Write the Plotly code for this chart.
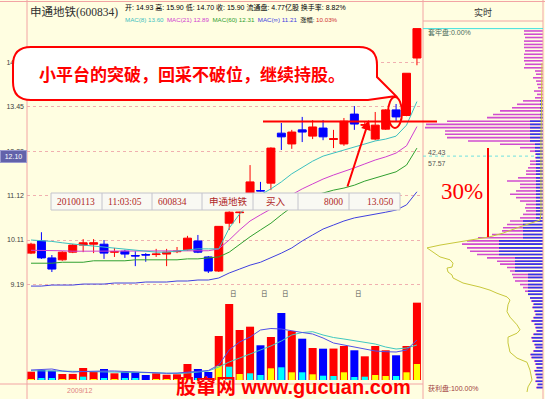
import plotly.graph_objects as go

# ---------------- data ----------------
days = list(range(1, 39))
opens = [9.83, 10.09, 9.73, 9.69, 9.85, 10.00, 10.02, 10.02, 9.85, 9.87,
         9.78, 9.80, 9.80, 9.81, 9.86, 9.90, 10.09, 9.75, 9.46, 10.48,
         10.72, 11.16, 11.24, 11.42, 12.71, 12.42, 12.80, 12.63, 12.85, 12.54,
         12.42, 13.24, 12.93, 12.55, 12.82, 13.36, 13.20, 14.93]
highs = [10.05, 10.28, 9.79, 9.87, 10.02, 10.13, 10.13, 10.11, 9.94, 9.90,
         9.87, 9.83, 9.92, 9.92, 9.96, 10.20, 10.22, 9.77, 10.41, 10.75,
         10.74, 11.87, 11.45, 12.33, 12.99, 12.80, 13.16, 13.07, 13.07, 12.80,
         13.13, 13.47, 13.02, 13.30, 13.38, 13.53, 14.45, 15.90]
lows = [9.81, 9.71, 9.44, 9.67, 9.83, 9.85, 9.83, 9.71, 9.75, 9.73,
        9.56, 9.65, 9.75, 9.56, 9.83, 9.88, 9.83, 9.42, 9.44, 10.33,
        10.48, 11.14, 11.22, 11.25, 12.26, 12.29, 12.47, 12.55, 12.52, 12.31,
        12.37, 12.80, 12.88, 12.52, 12.80, 13.04, 13.18, 14.70]
closes = [10.02, 9.73, 9.50, 9.85, 10.00, 10.05, 10.05, 9.83, 9.86, 9.81,
          9.77, 9.79, 9.81, 9.85, 9.87, 10.15, 9.85, 9.46, 10.41, 10.73,
          10.73, 11.45, 11.23, 12.31, 12.61, 12.74, 12.74, 12.88, 12.61, 12.56,
          13.04, 12.96, 12.94, 12.93, 13.36, 13.16, 14.45, 15.90]

ma8 = [10.11, 10.10, 10.08, 10.05, 10.02, 10.00, 9.98, 9.96, 9.94, 9.92,
       9.90, 9.87, 9.85, 9.85, 9.87, 9.90, 9.92, 9.92, 9.92, 10.37,
       10.69, 10.94, 11.14, 11.28, 11.45, 11.65, 11.82, 11.97, 12.10, 12.18,
       12.26, 12.34, 12.42, 12.50, 12.55, 12.63, 12.93, 13.60]
ma21 = [9.89, 9.89, 9.88, 9.88, 9.87, 9.87, 9.87, 9.87, 9.87, 9.87,
        9.87, 9.87, 9.87, 9.87, 9.87, 9.87, 9.88, 9.88, 9.92, 10.11,
        10.33, 10.53, 10.67, 10.80, 10.94, 11.14, 11.28, 11.40, 11.52, 11.62,
        11.70, 11.80, 11.90, 12.00, 12.08, 12.18, 12.37, 12.89]
ma60 = [9.62, 9.62, 9.62, 9.64, 9.64, 9.64, 9.67, 9.67, 9.67, 9.67,
        9.69, 9.69, 9.69, 9.69, 9.69, 9.71, 9.71, 9.73, 9.75, 9.85,
        10.02, 10.18, 10.33, 10.48, 10.67, 10.85, 10.99, 11.12, 11.18, 11.25,
        11.30, 11.37, 11.47, 11.55, 11.62, 11.70, 11.87, 12.31]
ma_inf = [9.16, 9.16, 9.18, 9.18, 9.18, 9.20, 9.20, 9.20, 9.22, 9.22,
          9.22, 9.24, 9.24, 9.24, 9.26, 9.26, 9.28, 9.28, 9.32, 9.42,
          9.50, 9.58, 9.64, 9.73, 9.83, 9.94, 10.09, 10.22, 10.35, 10.44,
          10.53, 10.60, 10.64, 10.69, 10.73, 10.78, 10.90, 11.21]

volume = [45200, 54400, 50600, 32600, 33100, 65300, 43500, 59800, 36400, 43500,
          43800, 27200, 36400, 28800, 31000, 87000, 59800, 43500, 239400, 413400,
          272000, 290000, 188800, 233900, 364500, 266600, 224700, 174100, 170300, 171000,
          185000, 161600, 128900, 185000, 161600, 134400, 185000, 420700]
vol_yellow = [5400, 0, 0, 5400, 5400, 0, 5400, 0, 5400, 0,
              0, 0, 3800, 3800, 3800, 10900, 0, 0, 76200, 0,
              32600, 0, 0, 63600, 0, 41900, 0, 31000, 0, 0,
              41900, 0, 0, 27200, 21800, 0, 41900, 87000]
vol_cyan = [0, 7100, 9200, 0, 0, 18000, 0, 9200, 0, 9200,
            7100, 0, 0, 0, 0, 0, 9200, 0, 0, 72400,
            0, 36400, 27200, 0, 69100, 0, 41900, 0, 23400, 21800,
            0, 16300, 18000, 0, 0, 21800, 0, 0]
vol_ma5 = [54400, 57100, 59800, 49000, 43500, 46200, 49000, 49000, 49000, 46200,
           43500, 40800, 38100, 36400, 38100, 43500, 49000, 51700, 81600, 163200,
           206700, 233900, 272000, 280200, 277400, 266600, 258400, 250200, 228500, 201300,
           190400, 176800, 165900, 157800, 154000, 152300, 163200, 217600]
vol_ma10 = [50600, 50600, 50000, 49000, 47300, 46200, 45700, 45200, 44600, 43500,
            42400, 40800, 39200, 37000, 35400, 38100, 43500, 49000, 70700, 97900,
            119700, 141400, 163200, 185000, 212200, 244800, 258400, 262800, 244800, 231200,
            223000, 214900, 206700, 195800, 179500, 168600, 174100, 190400]

chip_prices = [15.82, 15.71, 15.60, 15.48, 15.37, 15.27, 15.16, 15.05, 14.94, 14.84,
               14.73, 14.62, 14.52, 14.42, 14.31, 14.21, 14.11, 14.01, 13.91, 13.81,
               13.71, 13.62, 13.52, 13.42, 13.33, 13.23, 13.14, 13.04, 12.95, 12.86,
               12.77, 12.68, 12.59, 12.50, 12.41, 12.32, 12.23, 12.15, 12.06, 11.97,
               11.89, 11.80, 11.72, 11.64, 11.55, 11.47, 11.39, 11.31, 11.23, 11.15,
               11.07, 10.99, 10.91, 10.83, 10.76, 10.68, 10.60, 10.53, 10.45, 10.38,
               10.31, 10.23, 10.16, 10.09, 10.02, 9.94, 9.87, 9.80, 9.73, 9.66,
               9.60, 9.53, 9.46, 9.39, 9.33, 9.26, 9.19, 9.13, 9.06, 9.00,
               8.93, 8.87, 8.81, 8.75, 8.68, 8.62, 8.56, 8.50, 8.44, 8.38,
               8.32, 8.26, 8.20, 8.14, 8.08, 8.03, 7.97, 7.91, 7.86, 7.80,
               7.75, 7.69, 7.64, 7.58, 7.53, 7.47, 7.42, 7.37]
chip_total = [19, 19, 18, 19, 19, 19, 18, 19, 19, 19, 18, 19,
              8, 7, 10, 7, 6, 5, 9, 6, 8,
              20, 26, 31, 43, 50, 56, 96, 117, 118, 98, 98, 96, 75, 43, 23, 13,
              8, 8, 13, 13, 15, 17, 17, 25, 36, 23, 23, 27, 33, 27, 23, 17, 18, 17, 20, 23,
              33, 36, 40, 41, 51, 65, 76, 81, 76, 73, 66, 56, 46, 43, 36, 33, 31, 30, 28,
              23, 20, 18, 15, 13,
              12, 10, 11, 9, 8, 10, 12, 9, 8, 7, 10, 12, 11, 9, 8, 10, 13, 12, 9, 8,
              7, 9, 8, 7, 8, 6, 7]
chip_blue = [0, 0, 0, 0, 0, 0, 0, 0, 0, 0, 0, 0, 0, 0, 0, 0, 0, 0, 0, 0, 0,
             3, 3, 3, 3, 3, 3,
             13, 13, 13, 13, 13, 13, 13,
             8, 8, 8,
             7, 7, 7, 7, 7, 7, 7, 7, 7, 7, 7, 7, 7, 7, 7, 7, 7, 7, 7, 7,
             20, 20, 20, 20, 20, 20,
             44, 44, 44, 44, 44,
             28, 28, 28, 28, 28,
             15, 15, 15, 15, 15, 15, 15, 13,
             11, 9, 10, 8, 7, 9, 11, 8, 7, 6, 9, 11, 10, 8, 7, 9, 12, 11, 8, 7,
             6, 8, 7, 6, 7, 5, 6]
profit_x = [1, 2, 2, 3, 23, 40, 53, 73, 103, 116, 110, 103, 93, 90, 91, 96, 95, 91,
            90, 80, 63, 53, 46, 36, 33, 35, 36, 33, 26, 23, 26, 35, 35, 33, 26, 16,
            13, 11, 15, 16]
profit_price = [14.77, 12.50, 10.71, 10.55, 10.40, 10.26, 10.18, 10.11, 10.00, 9.94,
                9.85, 9.75, 9.69, 9.62, 9.54, 9.52, 9.44, 9.38, 9.32, 9.22, 9.14,
                9.08, 9.02, 8.95, 8.89, 8.80, 8.67, 8.57, 8.43, 8.34, 8.28, 8.21,
                8.11, 7.95, 7.85, 7.78, 7.65, 7.49, 7.38, 7.30]

ytick_vals = [9.19, 10.11, 11.12, 12.23, 13.45, 14.79]
ytick_text = ["9.19", "10.11", "11.12", "12.23", "13.45", "14.79"]
trade_row = ["20100113", "11:03:05", "600834", "申通地铁", "买入", "8000", "13.050"]
info_days = [20, 23, 25, 32]
cursor_price = 12.10
platform_price = 13.03

# ---------------- styles ----------------
W, H = 545, 399
BG = "#fffee1"
RED = "#ff0000"
BLUE = "#0000ff"
PINK = "#f2a4a4"
GRID = "#f0b0b0"
C_MA8, C_MA21, C_MA60, C_MAINF = "#3cc0c0", "#d040d0", "#30a030", "#4040e0"
SANS = "Liberation Sans, Noto Sans CJK SC"
SERIF = "Liberation Serif, Noto Sans CJK SC"


def px(x):
    return x / W


def py(y):
    return 1 - y / H


fig = go.Figure()

# candles
fig.add_trace(go.Candlestick(
    x=days, open=opens, high=highs, low=lows, close=closes,
    increasing=dict(line=dict(color=RED, width=1), fillcolor=RED),
    decreasing=dict(line=dict(color=BLUE, width=1), fillcolor=BLUE),
    whiskerwidth=0, hoverinfo="skip", xaxis="x", yaxis="y"))
for arr, col in [(ma_inf, C_MAINF), (ma60, C_MA60), (ma21, C_MA21), (ma8, C_MA8)]:
    fig.add_trace(go.Scatter(x=days, y=arr, mode="lines", line=dict(color=col, width=1),
                             hoverinfo="skip", xaxis="x", yaxis="y"))

# volume
vol_colors = [RED if c >= o else BLUE for o, c in zip(opens, closes)]
fig.add_trace(go.Bar(x=days, y=volume, width=0.77, marker=dict(color=vol_colors, line=dict(width=0)),
                     hoverinfo="skip", xaxis="x", yaxis="y2"))
fig.add_trace(go.Bar(x=days, y=vol_yellow, width=0.6, marker=dict(color="#ffff00", line=dict(width=0)),
                     hoverinfo="skip", xaxis="x", yaxis="y2"))
fig.add_trace(go.Bar(x=days, y=vol_cyan, width=0.6, marker=dict(color="#00ffff", line=dict(width=0)),
                     hoverinfo="skip", xaxis="x", yaxis="y2"))
fig.add_trace(go.Scatter(x=days, y=vol_ma10, mode="lines", line=dict(color="#40c8c0", width=1),
                         hoverinfo="skip", xaxis="x", yaxis="y2"))
fig.add_trace(go.Scatter(x=days, y=vol_ma5, mode="lines", line=dict(color="#5050e8", width=1),
                         hoverinfo="skip", xaxis="x", yaxis="y2"))


# chip distribution
def segs(lengths):
    xs, ys = [], []
    for p, L in zip(chip_prices, lengths):
        if L > 0:
            xs += [0, L, None]
            ys += [p, p, None]
    return xs, ys


mx, my = segs(chip_total)
bx, by = segs(chip_blue)
fig.add_trace(go.Scatter(x=mx, y=my, mode="lines", line=dict(color="#d04cd0", width=1.6),
                         hoverinfo="skip", xaxis="x3", yaxis="y3"))
fig.add_trace(go.Scatter(x=bx, y=by, mode="lines", line=dict(color="#3535e6", width=1.6),
                         hoverinfo="skip", xaxis="x3", yaxis="y3"))
fig.add_trace(go.Scatter(x=profit_x, y=profit_price, mode="lines", line=dict(color="#c8c83c", width=1),
                         hoverinfo="skip", xaxis="x3", yaxis="y3"))

# ---------------- shapes ----------------
shapes = []


def line(x0, y0, x1, y1, color=PINK, width=1, dash="solid"):
    shapes.append(dict(type="line", xref="paper", yref="paper", x0=px(x0), y0=py(y0),
                       x1=px(x1), y1=py(y1), line=dict(color=color, width=width, dash=dash)))


line(27, 0, 27, 399)
line(423, 0, 423, 399)
line(543, 0, 543, 399)
line(0, 1.5, 545, 1.5)
line(0, 384, 423, 384)
line(423, 21, 543, 21)

# chip panel marker lines
shapes.append(dict(type="line", xref="x3 domain", yref="y3", x0=0, x1=1, y0=closes[-1], y1=closes[-1],
                   line=dict(color="#40e0e0", width=1)))
shapes.append(dict(type="line", xref="x3 domain", yref="y3", x0=0, x1=1, y0=cursor_price, y1=cursor_price,
                   line=dict(color="#70e0e0", width=1, dash="dot")))
line(488, 148, 488, 237, color=RED, width=2)

# trade table
shapes.append(dict(type="rect", xref="paper", yref="paper", x0=px(51), x1=px(400), y0=py(210), y1=py(193),
                   fillcolor="#f9f9f3", line=dict(color="#c4c4cc", width=1)))
for xd in [102, 152, 202, 253, 298, 349]:
    line(xd, 193, xd, 210, color="#c4c4cc")

# platform line, ellipse
shapes.append(dict(type="line", xref="paper", yref="y", x0=px(263), x1=px(437), y0=platform_price,
                   y1=platform_price, line=dict(color=RED, width=2)))
shapes.append(dict(type="circle", xref="paper", yref="paper", x0=px(388), x1=px(402), y0=py(128), y1=py(97),
                   line=dict(color=RED, width=2)))

# speech bubble
L_, R_, T_, B_, r = 13, 377, 47, 100, 18


def P(x, y):
    return f"{px(x):.5f},{py(y):.5f}"


path = (f"M {P(L_ + r, T_)} L {P(R_ - r, T_)} Q {P(R_, T_)} {P(R_, T_ + r)} L {P(R_, 77)} "
        f"L {P(396, 96)} L {P(368, B_)} L {P(L_ + r, B_)} Q {P(L_, B_)} {P(L_, B_ - r)} "
        f"L {P(L_, T_ + r)} Q {P(L_, T_)} {P(L_ + r, T_)} Z")
shapes.append(dict(type="path", xref="paper", yref="paper", path=path, fillcolor="#ffffff",
                   line=dict(color=RED, width=2)))

# ---------------- annotations ----------------
ann = []


def text(x, y, s, size=7, color="#000", family=SANS, xanchor="left", **kw):
    d = dict(x=px(x), y=py(y), xref="paper", yref="paper", text=s, showarrow=False,
             xanchor=xanchor, yanchor="middle", font=dict(size=size, color=color, family=family))
    d.update(kw)
    ann.append(d)


text(28, 13, "申通地铁(600834)", size=11.5, color="#303030", family=SERIF)
text(123, 7.5, f"开: {opens[-1]:.2f} 高: {highs[-1]:.2f} 低: {lows[-1]:.2f} 收: {closes[-1]:.2f} "
               f"流通盘: 4.77亿股 换手率: 8.82%", size=7)
chg = (closes[-1] / closes[-2] - 1) * 100
row2 = (f"<span style='color:{C_MA8}'>MAC(8) {ma8[-1]:.2f}</span>  "
        f"<span style='color:{C_MA21}'>MAC(21) {ma21[-1]:.2f}</span>  "
        f"<span style='color:{C_MA60}'>MAC(60) {ma60[-1]:.2f}</span>  "
        f"<span style='color:{C_MAINF}'>MAC(∞) {ma_inf[-1]:.2f}</span>  "
        f"涨幅: <span style='color:#d03030'>{chg:.2f}%</span>")
text(123, 20, row2, size=6.2)

text(483, 12, "实时", size=9, color="#333", xanchor="center")
text(426, 32, "套牢盘:0.00%", size=7, color="#4a6a5a")
text(426, 152, "42.43", size=7, color="#555")
text(426, 163, "57.57", size=7, color="#555")
text(426, 388, "获利盘:100.00%", size=7, color="#a04040")
text(462, 191, "30%", size=23, color=RED, family="Liberation Serif", xanchor="center")

text(192, 73.5, "<b>小平台的突破，回采不破位，继续持股。</b>", size=17, color=RED,
     family="Noto Sans CJK SC", xanchor="center")

tx = [(55, "left"), (106, "left"), (156, "left"), (207, "left"), (276, "center"), (345, "right"), (395, "right")]
for (x, a), s in zip(tx, trade_row):
    text(x, 201.5, s, size=9.5, color="#b02828", family=SERIF, xanchor=a)

ann.append(dict(x=px(13), y=py(157), xref="paper", yref="paper", text="12.10", showarrow=False,
                xanchor="center", yanchor="middle", width=25, height=11, bgcolor="#6262aa",
                bordercolor="#9a9ad0", borderwidth=1, borderpad=0,
                font=dict(size=7, color="#ffffff", family=SANS)))

for d in info_days:
    ann.append(dict(x=d, y=py(294), xref="x", yref="paper", text="日", showarrow=False, xshift=4,
                    xanchor="center", yanchor="middle", font=dict(size=6.5, color="#555", family=SANS)))

text(79, 390, "2009/12", size=7, color="#e08080", xanchor="center")
text(174, 387, "<b>股窜网 www.gucuan.com</b>", size=20, color=RED,
     family="Liberation Sans, Noto Sans CJK SC", xanchor="left")

ann.append(dict(x=px(369), y=py(120), xref="paper", yref="paper", text="", showarrow=True,
                ax=-22, ay=68, arrowhead=2, arrowsize=1, arrowwidth=2, arrowcolor=RED))

fig.update_layout(
    width=W, height=H, margin=dict(l=0, r=0, t=0, b=0, pad=0),
    paper_bgcolor=BG, plot_bgcolor=BG, showlegend=False,
    boxgap=0.1, boxgroupgap=0.15, barmode="overlay", hovermode=False,
    xaxis=dict(domain=[px(27), px(423)], range=[0.6165, 38.58], visible=False,
               rangeslider=dict(visible=False), anchor="y"),
    yaxis=dict(domain=[py(290), py(28)], type="log", range=[0.95825, 1.20197], anchor="x",
               tickvals=ytick_vals, ticktext=ytick_text, showgrid=True, gridcolor=GRID,
               griddash="dot", gridwidth=1, ticks="", showline=False, zeroline=False,
               ticklabelstandoff=2, tickfont=dict(size=7, color="#404040", family=SANS)),
    yaxis2=dict(domain=[py(380), py(292)], range=[0, 478720], visible=False, anchor="x"),
    xaxis3=dict(domain=[px(423), px(543)], range=[120, 0], visible=False, anchor="y3"),
    yaxis3=dict(domain=[py(395), py(28)], type="log", range=[0.86054, 1.20197], visible=False,
                anchor="x3"),
    shapes=shapes, annotations=ann,
)

fig.write_html("out.html", config={"displayModeBar": False},
               post_script="document.body.style.margin='0px';document.body.style.overflow='hidden';")
